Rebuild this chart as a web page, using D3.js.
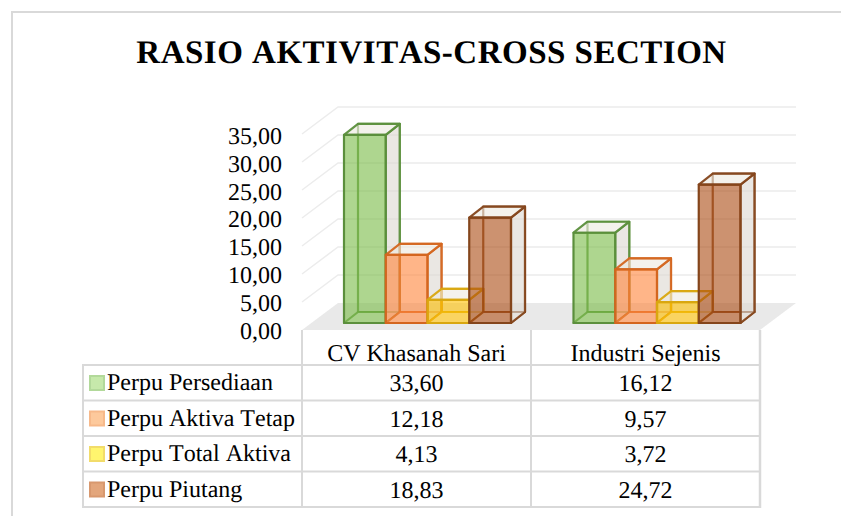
<!DOCTYPE html>
<html><head><meta charset="utf-8">
<script src="https://cdn.jsdelivr.net/npm/d3@7/dist/d3.min.js"></script>
<style>html,body{margin:0;padding:0;background:#fff}svg{display:block}text{font-family:"Liberation Serif",serif;fill:#000;font-kerning:none;text-rendering:geometricPrecision}</style>
</head><body><svg id="c" width="841" height="516"></svg>
<script>
const titleText = "RASIO AKTIVITAS-CROSS SECTION";
const categories = ["CV Khasanah Sari", "Industri Sejenis"];
const seriesNames = ["Perpu Persediaan", "Perpu Aktiva Tetap", "Perpu Total Aktiva", "Perpu Piutang"];
const seriesValues = [[33.60, 16.12], [12.18, 9.57], [4.13, 3.72], [18.83, 24.72]];
const tableLabels = [["33,60", "16,12"], ["12,18", "9,57"], ["4,13", "3,72"], ["18,83", "24,72"]];
const tickValues = [0, 5, 10, 15, 20, 25, 30, 35];
const strokeColors = ["#5b8f3c", "#d4661f", "#d9a70f", "#84451b"];
const fillColors = ["#78bb44", "#ff8439", "#ffc000", "#aa4911"];
const swatchFill = ["#c6e9ab", "#fdc99c", "#fff56e", "#e3a67c"];
const swatchStroke = ["#b2d99a", "#f7b98a", "#f2dc6a", "#d8986e"];

const svg = d3.select("#c");
const grid = "#ececec", rule = "#d9d9d9";
const line = (x1, y1, x2, y2, c, w) => svg.append("line").attr("x1", x1).attr("y1", y1).attr("x2", x2).attr("y2", y2).attr("stroke", c).attr("stroke-width", w);

// frame
svg.append("path").attr("d", "M12,516V12H841").attr("fill", "none").attr("stroke", rule).attr("stroke-width", 2);
svg.append("text").attr("x", 431.5).attr("y", 62.5).attr("text-anchor", "middle").attr("font-weight", "bold").attr("font-size", 33).attr("letter-spacing", 0.5).text(titleText);

const y = d3.scaleLinear().domain([0, 35]).range([330, 134]);
const yLabel = d3.scaleLinear().domain([0, 35]).range([338.5, 144]);
const x0 = d3.scaleBand().domain(categories).range([302, 760]);
const depth = {dx: 36, dy: -27};
const barDepth = {dx: 14, dy: -11};

// floor + grid
svg.append("path").attr("d", d3.line()([[302, y(0)], [302 + depth.dx, y(0) + depth.dy], [796, y(0) + depth.dy], [760, y(0)]]) + "Z").attr("fill", "#e9e9e9");
tickValues.slice(1).forEach(t => {
  const yy = y(t);
  svg.append("path").attr("d", d3.line()([[302, yy], [302 + depth.dx, yy + depth.dy], [796, yy + depth.dy]])).attr("fill", "none").attr("stroke", grid).attr("stroke-width", 1.5);
});

// y tick labels
tickValues.forEach(t => {
  svg.append("text").attr("x", 282).attr("y", yLabel(t)).attr("text-anchor", "end").attr("font-size", 24).text(d3.format(".2f")(t).replace(".", ","));
});

// bars
const barW = 41.75;
const yBar = v => y(v) - 7;
const xBar = (c, s) => x0(categories[c]) + (c === 0 ? 42 : 42.5) + s * barW;
categories.forEach((cat, c) => {
  seriesValues.forEach((vals, s) => {
    const l = xBar(c, s), r = l + barW, b = yBar(0), t = yBar(vals[c]);
    const d = barDepth, g = svg.append("g").attr("stroke", strokeColors[s]).attr("stroke-width", 2.2).attr("stroke-linejoin", "round");
    const poly = (pts, f, o) => g.append("path").attr("d", d3.line()(pts) + "Z").attr("fill", f).attr("fill-opacity", o);
    // back, floor, side, top, front
    poly([[l + d.dx, b + d.dy], [r + d.dx, b + d.dy], [r + d.dx, t + d.dy], [l + d.dx, t + d.dy]], "#fff", 0).attr("stroke-opacity", .85);
    poly([[l, b], [l + d.dx, b + d.dy], [r + d.dx, b + d.dy], [r, b]], "#ffffff", .45).attr("stroke-opacity", .85);
    poly([[r, b], [r + d.dx, b + d.dy], [r + d.dx, t + d.dy], [r, t]], "#ddd8d2", .62).attr("stroke-opacity", .9);
    poly([[l, t], [l + d.dx, t + d.dy], [r + d.dx, t + d.dy], [r, t]], "#eceadf", .6).attr("stroke-opacity", .95);
    poly([[l, b], [r, b], [r, t], [l, t]], fillColors[s], .6);
  });
});

// data table
const rows = [330, 365, 400.5, 436, 471.5, 507];
const cols = [83, 302, 531, 760];
line(302, 330, 302, 508, rule, 2); line(531, 330, 531, 508, rule, 2); line(760, 330, 760, 508, rule, 2.5);
line(83, 364, 83, 508, rule, 2);
rows.slice(1).forEach(r => line(83, r, 761, r, rule, 2));

categories.forEach((cat, c) => {
  const cx = (cols[c + 1] + cols[c + 2]) / 2;
  svg.append("text").attr("x", cx).attr("y", 361).attr("text-anchor", "middle").attr("font-size", 24).text(cat);
  seriesNames.forEach((n, s) => {
    svg.append("text").attr("x", cx).attr("y", rows[s + 1] + 26).attr("text-anchor", "middle").attr("font-size", 24).text(tableLabels[s][c]);
  });
});
seriesNames.forEach((n, s) => {
  svg.append("rect").attr("x", 90).attr("y", rows[s + 1] + 11).attr("width", 14).attr("height", 14).attr("fill", swatchFill[s]).attr("stroke", swatchStroke[s]).attr("stroke-width", 2);
  svg.append("text").attr("x", 107).attr("y", rows[s + 1] + 25).attr("font-size", 24).text(n);
});
</script></body></html>
